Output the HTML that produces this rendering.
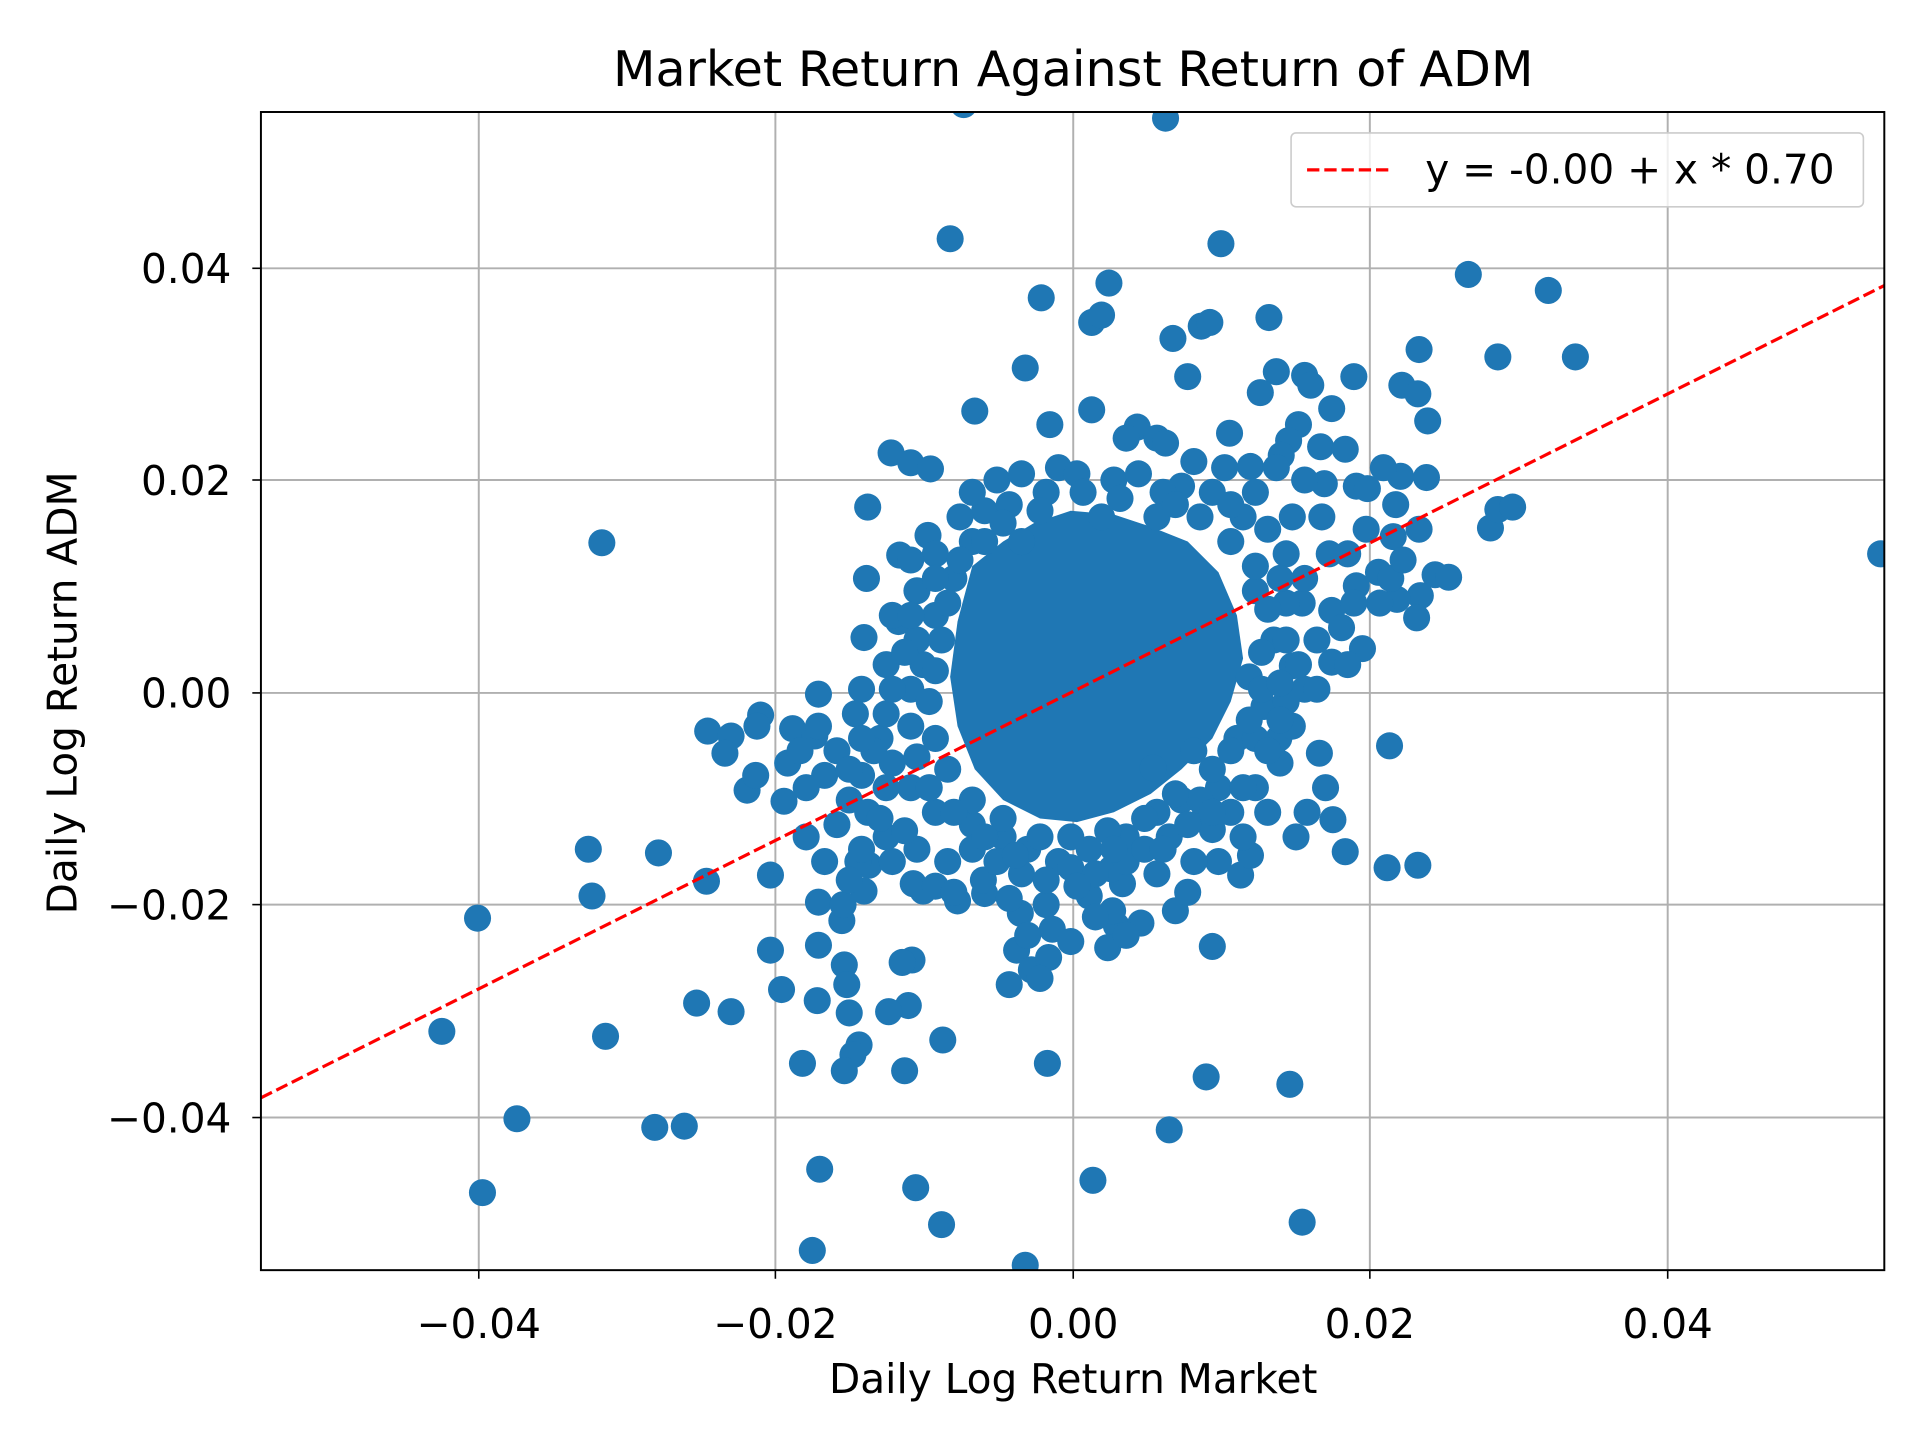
<!DOCTYPE html>
<html><head><meta charset="utf-8"><style>
html,body{margin:0;padding:0;background:#fff;}
svg{display:block;}
text{font-family:"DejaVu Sans","Liberation Sans",sans-serif;fill:#000;}
#dots circle{r:11px;}
</style></head><body>
<svg width="1920" height="1440" viewBox="0 0 1560 1170" xmlns="http://www.w3.org/2000/svg">
<rect width="1560" height="1170" fill="#fff"/>
<defs><clipPath id="c"><rect x="212" y="91" width="1319" height="941"/></clipPath></defs>
<g stroke="#b0b0b0" stroke-width="1.6">
<line x1="389" y1="91" x2="389" y2="1032"/><line x1="630" y1="91" x2="630" y2="1032"/><line x1="872" y1="91" x2="872" y2="1032"/><line x1="1113" y1="91" x2="1113" y2="1032"/><line x1="1355" y1="91" x2="1355" y2="1032"/>
<line x1="212" y1="218" x2="1531" y2="218"/><line x1="212" y1="390" x2="1531" y2="390"/><line x1="212" y1="563" x2="1531" y2="563"/><line x1="212" y1="735" x2="1531" y2="735"/><line x1="212" y1="908" x2="1531" y2="908"/>
</g>
<g clip-path="url(#c)" fill="#1f77b4" id="dots">
<polygon points="790,460 815,440 840,425 870,415 905,418 935,428 965,440 990,465 1005,500 1010,535 1000,570 985,600 960,625 935,645 905,660 875,668 845,665 815,650 792,625 778,590 772,550 778,505"/>
<circle cx="783" cy="85"/><circle cx="947" cy="96"/><circle cx="772" cy="194"/><circle cx="992" cy="198"/><circle cx="1193" cy="223"/><circle cx="1258" cy="236"/><circle cx="846" cy="242"/><circle cx="901" cy="230"/><circle cx="887" cy="262"/><circle cx="895" cy="256"/><circle cx="953" cy="275"/><circle cx="976" cy="265"/><circle cx="983" cy="262"/><circle cx="1031" cy="258"/><circle cx="1153" cy="284"/><circle cx="1217" cy="290"/><circle cx="1280" cy="290"/><circle cx="833" cy="299"/><circle cx="965" cy="306"/><circle cx="1037" cy="302"/><circle cx="1060" cy="305"/><circle cx="1065" cy="313"/><circle cx="1100" cy="306"/><circle cx="1024" cy="319"/><circle cx="1139" cy="313"/><circle cx="1152" cy="320"/><circle cx="1160" cy="342"/><circle cx="792" cy="334"/><circle cx="887" cy="333"/><circle cx="853" cy="345"/><circle cx="1082" cy="332"/><circle cx="1055" cy="345"/><circle cx="999" cy="352"/><circle cx="924" cy="347"/><circle cx="915" cy="356"/><circle cx="940" cy="356"/><circle cx="947" cy="360"/><circle cx="1047" cy="358"/><circle cx="1041" cy="370"/><circle cx="1073" cy="363"/><circle cx="1093" cy="365"/><circle cx="724" cy="368"/><circle cx="740" cy="376"/><circle cx="756" cy="381"/><circle cx="1016" cy="379"/><circle cx="1037" cy="380"/><circle cx="1076" cy="393"/><circle cx="1060" cy="390"/><circle cx="1138" cy="387"/><circle cx="1159" cy="388"/><circle cx="1124" cy="380"/><circle cx="1102" cy="395"/><circle cx="1111" cy="397"/><circle cx="1134" cy="410"/><circle cx="1074" cy="420"/><circle cx="705" cy="412"/><circle cx="489" cy="441"/><circle cx="1153" cy="430"/><circle cx="1132" cy="436"/><circle cx="1211" cy="429"/><circle cx="1217" cy="414"/><circle cx="1229" cy="412"/><circle cx="1528" cy="450"/><circle cx="1166" cy="467"/><circle cx="1177" cy="469"/><circle cx="1154" cy="484"/><circle cx="1135" cy="487"/><circle cx="1121" cy="490"/><circle cx="1102" cy="476"/><circle cx="1151" cy="502"/><circle cx="1107" cy="527"/><circle cx="1082" cy="496"/><circle cx="1082" cy="538"/><circle cx="1050" cy="541"/><circle cx="1058" cy="490"/><circle cx="1027" cy="574"/><circle cx="704" cy="470"/><circle cx="731" cy="451"/><circle cx="754" cy="435"/><circle cx="702" cy="518"/><circle cx="665" cy="564"/><circle cx="618" cy="581"/><circle cx="575" cy="594"/><circle cx="594" cy="598"/><circle cx="589" cy="612"/><circle cx="607" cy="642"/><circle cx="614" cy="630"/><circle cx="637" cy="651"/><circle cx="644" cy="592"/><circle cx="662" cy="598"/><circle cx="478" cy="690"/><circle cx="535" cy="693"/><circle cx="481" cy="728"/><circle cx="574" cy="716"/><circle cx="626" cy="711"/><circle cx="388" cy="746"/><circle cx="359" cy="838"/><circle cx="492" cy="842"/><circle cx="420" cy="909"/><circle cx="532" cy="916"/><circle cx="556" cy="915"/><circle cx="392" cy="969"/><circle cx="566" cy="815"/><circle cx="594" cy="822"/><circle cx="626" cy="772"/><circle cx="635" cy="804"/><circle cx="664" cy="813"/><circle cx="665" cy="768"/><circle cx="665" cy="733"/><circle cx="684" cy="748"/><circle cx="686" cy="784"/><circle cx="688" cy="800"/><circle cx="690" cy="823"/><circle cx="698" cy="849"/><circle cx="693" cy="857"/><circle cx="686" cy="870"/><circle cx="652" cy="864"/><circle cx="666" cy="950"/><circle cx="660" cy="1016"/><circle cx="744" cy="965"/><circle cx="765" cy="995"/><circle cx="735" cy="870"/><circle cx="738" cy="817"/><circle cx="722" cy="822"/><circle cx="741" cy="780"/><circle cx="733" cy="782"/><circle cx="766" cy="845"/><circle cx="851" cy="864"/><circle cx="888" cy="959"/><circle cx="950" cy="918"/><circle cx="980" cy="875"/><circle cx="1048" cy="881"/><circle cx="1058" cy="993"/><circle cx="833" cy="1028"/><circle cx="985" cy="769"/><circle cx="907" cy="752"/><circle cx="927" cy="750"/><circle cx="1008" cy="711"/><circle cx="1016" cy="695"/><circle cx="1053" cy="680"/><circle cx="1062" cy="660"/><circle cx="1083" cy="666"/><circle cx="1093" cy="692"/><circle cx="1077" cy="640"/><circle cx="1072" cy="612"/><circle cx="1129" cy="606"/><circle cx="1127" cy="705"/><circle cx="1152" cy="703"/><circle cx="1039" cy="600"/><circle cx="970" cy="610"/><circle cx="978" cy="665"/><circle cx="985" cy="674"/><circle cx="937" cy="624"/><circle cx="912" cy="718"/><circle cx="903" cy="706"/><circle cx="904" cy="740"/><circle cx="885" cy="728"/><circle cx="890" cy="745"/><circle cx="829" cy="742"/><circle cx="826" cy="772"/><circle cx="838" cy="788"/><circle cx="852" cy="778"/><circle cx="850" cy="735"/><circle cx="800" cy="726"/><circle cx="799" cy="715"/><circle cx="778" cy="732"/><circle cx="742" cy="718"/><circle cx="750" cy="724"/><circle cx="706" cy="703"/><circle cx="697" cy="700"/><circle cx="702" cy="724"/><circle cx="685" cy="735"/>
<circle cx="810" cy="390"/><circle cx="830" cy="385"/><circle cx="860" cy="380"/><circle cx="875" cy="385"/><circle cx="905" cy="390"/><circle cx="925" cy="385"/><circle cx="960" cy="395"/><circle cx="985" cy="400"/><circle cx="1010" cy="420"/><circle cx="1030" cy="430"/><circle cx="1045" cy="450"/><circle cx="1060" cy="470"/><circle cx="1020" cy="480"/><circle cx="1035" cy="520"/><circle cx="1015" cy="550"/><circle cx="1005" cy="600"/><circle cx="990" cy="640"/><circle cx="960" cy="650"/><circle cx="940" cy="660"/><circle cx="915" cy="680"/><circle cx="885" cy="690"/><circle cx="860" cy="700"/><circle cx="835" cy="690"/><circle cx="815" cy="680"/><circle cx="790" cy="670"/><circle cx="760" cy="660"/><circle cx="740" cy="640"/><circle cx="725" cy="620"/><circle cx="715" cy="600"/><circle cx="720" cy="580"/><circle cx="740" cy="560"/><circle cx="750" cy="540"/><circle cx="760" cy="500"/><circle cx="775" cy="470"/><circle cx="790" cy="440"/><circle cx="800" cy="415"/><circle cx="820" cy="410"/><circle cx="850" cy="400"/><circle cx="780" cy="420"/><circle cx="760" cy="450"/><circle cx="745" cy="480"/><circle cx="730" cy="505"/><circle cx="745" cy="520"/><circle cx="720" cy="540"/><circle cx="700" cy="560"/><circle cx="695" cy="580"/><circle cx="710" cy="610"/><circle cx="700" cy="630"/><circle cx="690" cy="650"/><circle cx="680" cy="670"/><circle cx="705" cy="660"/><circle cx="720" cy="680"/><circle cx="745" cy="690"/><circle cx="770" cy="700"/><circle cx="790" cy="690"/><circle cx="810" cy="700"/><circle cx="830" cy="710"/><circle cx="850" cy="715"/><circle cx="870" cy="705"/><circle cx="890" cy="710"/><circle cx="915" cy="700"/><circle cx="930" cy="690"/><circle cx="950" cy="680"/><circle cx="965" cy="670"/><circle cx="975" cy="650"/><circle cx="1000" cy="660"/><circle cx="1020" cy="640"/><circle cx="1040" cy="620"/><circle cx="1050" cy="590"/><circle cx="1060" cy="560"/><circle cx="1070" cy="520"/><circle cx="1090" cy="510"/><circle cx="1100" cy="490"/><circle cx="1095" cy="450"/><circle cx="1110" cy="430"/><circle cx="1080" cy="450"/><circle cx="1050" cy="420"/><circle cx="1020" cy="400"/><circle cx="995" cy="380"/><circle cx="970" cy="375"/><circle cx="945" cy="400"/><circle cx="665" cy="590"/><circle cx="680" cy="610"/><circle cx="670" cy="630"/><circle cx="655" cy="640"/><circle cx="700" cy="690"/><circle cx="725" cy="700"/><circle cx="760" cy="720"/><circle cx="775" cy="725"/><circle cx="820" cy="730"/><circle cx="855" cy="755"/><circle cx="870" cy="765"/><circle cx="900" cy="770"/><circle cx="915" cy="760"/><circle cx="955" cy="740"/><circle cx="965" cy="725"/><circle cx="990" cy="700"/><circle cx="1010" cy="680"/><circle cx="1030" cy="660"/><circle cx="1020" cy="600"/><circle cx="1045" cy="570"/><circle cx="1055" cy="540"/><circle cx="1045" cy="490"/><circle cx="1120" cy="465"/><circle cx="1130" cy="470"/><circle cx="1140" cy="455"/><circle cx="1095" cy="540"/><circle cx="1070" cy="560"/><circle cx="640" cy="620"/><circle cx="650" cy="610"/><circle cx="615" cy="590"/><circle cx="740" cy="455"/><circle cx="725" cy="500"/><circle cx="970" cy="700"/><circle cx="940" cy="710"/><circle cx="690" cy="715"/><circle cx="670" cy="700"/><circle cx="655" cy="680"/><circle cx="835" cy="760"/><circle cx="845" cy="795"/><circle cx="820" cy="800"/>
<circle cx="790" cy="400"/><circle cx="815" cy="425"/><circle cx="845" cy="415"/><circle cx="880" cy="400"/><circle cx="910" cy="405"/><circle cx="940" cy="420"/><circle cx="975" cy="420"/><circle cx="1000" cy="440"/><circle cx="1020" cy="460"/><circle cx="1030" cy="495"/><circle cx="1025" cy="530"/><circle cx="1025" cy="560"/><circle cx="1015" cy="585"/><circle cx="1000" cy="610"/><circle cx="985" cy="625"/><circle cx="955" cy="645"/><circle cx="930" cy="665"/><circle cx="900" cy="675"/><circle cx="870" cy="680"/><circle cx="845" cy="680"/><circle cx="815" cy="665"/><circle cx="790" cy="650"/><circle cx="770" cy="625"/><circle cx="760" cy="600"/><circle cx="755" cy="570"/><circle cx="760" cy="545"/><circle cx="765" cy="520"/><circle cx="770" cy="490"/><circle cx="780" cy="455"/><circle cx="800" cy="440"/><circle cx="760" cy="470"/><circle cx="740" cy="500"/><circle cx="735" cy="530"/><circle cx="725" cy="560"/><circle cx="740" cy="590"/><circle cx="745" cy="615"/><circle cx="755" cy="640"/><circle cx="775" cy="660"/><circle cx="800" cy="680"/><circle cx="825" cy="695"/><circle cx="875" cy="720"/><circle cx="905" cy="690"/><circle cx="945" cy="690"/><circle cx="985" cy="660"/><circle cx="1010" cy="640"/><circle cx="1030" cy="610"/><circle cx="1040" cy="585"/><circle cx="1040" cy="555"/><circle cx="1045" cy="520"/><circle cx="1040" cy="470"/><circle cx="1000" cy="410"/><circle cx="955" cy="410"/><circle cx="895" cy="420"/><circle cx="830" cy="440"/><circle cx="720" cy="640"/><circle cx="715" cy="665"/><circle cx="735" cy="675"/><circle cx="700" cy="600"/><circle cx="690" cy="625"/>
</g>
<line x1="212" y1="892" x2="1531" y2="232" stroke="#ff0000" stroke-width="2.6" stroke-dasharray="10,4" clip-path="url(#c)"/>
<rect x="212" y="91" width="1319" height="941" fill="none" stroke="#000" stroke-width="1.6"/>
<g stroke="#000" stroke-width="1.3">
<line x1="389" y1="1032" x2="389" y2="1039"/><line x1="630" y1="1032" x2="630" y2="1039"/><line x1="872" y1="1032" x2="872" y2="1039"/><line x1="1113" y1="1032" x2="1113" y2="1039"/><line x1="1355" y1="1032" x2="1355" y2="1039"/>
<line x1="205" y1="218" x2="212" y2="218"/><line x1="205" y1="390" x2="212" y2="390"/><line x1="205" y1="563" x2="212" y2="563"/><line x1="205" y1="735" x2="212" y2="735"/><line x1="205" y1="908" x2="212" y2="908"/>
</g>
<g font-size="33" text-anchor="middle">
<text x="389" y="1087">−0.04</text><text x="630" y="1087">−0.02</text><text x="872" y="1087">0.00</text><text x="1113" y="1087">0.02</text><text x="1355" y="1087">0.04</text>
</g>
<g font-size="33" text-anchor="end">
<text x="188" y="230">0.04</text><text x="188" y="402">0.02</text><text x="188" y="575">0.00</text><text x="188" y="747">−0.02</text><text x="188" y="920">−0.04</text>
</g>
<text x="872" y="1132" font-size="33" text-anchor="middle">Daily Log Return Market</text>
<text transform="translate(62,563) rotate(-90)" font-size="33" text-anchor="middle">Daily Log Return ADM</text>
<text x="872" y="70" font-size="40" text-anchor="middle">Market Return Against Return of ADM</text>
<rect x="1049" y="108" width="465" height="60" rx="4" fill="#fff" fill-opacity="0.8" stroke="#ccc" stroke-width="1.3"/>
<line x1="1062" y1="138" x2="1132" y2="138" stroke="#ff0000" stroke-width="2.6" stroke-dasharray="10,4"/>
<text x="1158" y="149" font-size="33">y = -0.00 + x * 0.70</text>
</svg>
</body></html>
